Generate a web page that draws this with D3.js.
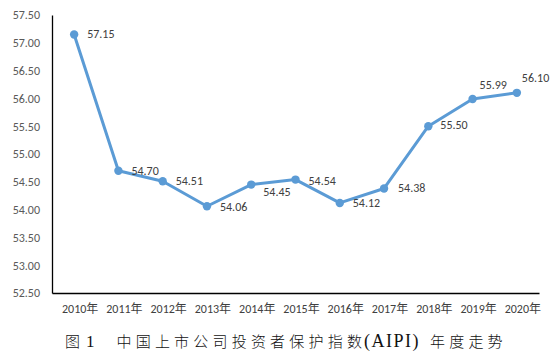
<!DOCTYPE html>
<html><head><meta charset="utf-8">
<script src="https://cdn.jsdelivr.net/npm/d3@7/dist/d3.min.js"></script>
<style>
html,body{margin:0;padding:0;background:#fff;}
svg{display:block;}
</style>
</head><body>
<svg id="chart" width="559" height="361"></svg>
<script>
const years = ["2010年","2011年","2012年","2013年","2014年","2015年","2016年","2017年","2018年","2019年","2020年"];
const values = [57.15,54.70,54.51,54.06,54.45,54.54,54.12,54.38,55.50,55.99,56.10];
const yTicks = [52.5,53.0,53.5,54.0,54.5,55.0,55.5,56.0,56.5,57.0,57.5];
const captionFig = "图";
const captionNum = "1";
const captionParts = ["中国上市公司投资者保护指数", "(AIPI)", "年度走势"];

// label placement (layout only): offsets from point
const labelOffsets = [[13,0],[13,0],[13,0],[13,1],[12,7],[13,1],[13,0],[14,0],[12,-1],[7,-14],[5,-15]];

const svg = d3.select("#chart");
const mLeft = 52, mRight = 539, mTop = 15, mBottom = 293;
const font = "Calibri, Carlito, Lato, 'Noto Sans CJK SC', sans-serif";
const fs = "12px";

const x = d3.scaleBand().domain(years).range([mLeft, mRight]).padding(0);
const y = d3.scaleLinear().domain([52.5, 57.5]).range([mBottom, mTop]);

// y axis
const yAxis = d3.axisLeft(y).tickValues(yTicks).tickSize(0).tickPadding(12).tickFormat(d3.format(".2f"));
const gy = svg.append("g").attr("transform", `translate(${mLeft},0)`).call(yAxis);
gy.select(".domain").attr("stroke", "#000").attr("stroke-width", 1.3);
gy.selectAll("text").attr("fill", "#595959").style("font-family", font).style("font-size", fs);

// x axis
const xAxis = d3.axisBottom(x).tickSize(0).tickPadding(11);
const gx = svg.append("g").attr("transform", `translate(0,${mBottom})`).call(xAxis);
gx.select(".domain").attr("stroke", "#000").attr("stroke-width", 1.3);
gx.selectAll("text").attr("fill", "#404040").attr("dx", 6).style("font-family", font).style("font-size", fs);

const cx = d => x(d) + x.bandwidth() / 2;
const data = years.map((yr, i) => ({yr, v: values[i], i}));

svg.append("path").datum(data)
  .attr("fill", "none").attr("stroke", "#5B9BD5").attr("stroke-width", 3).attr("stroke-linejoin", "round")
  .attr("d", d3.line().x(d => cx(d.yr)).y(d => y(d.v)));

svg.selectAll("circle.pt").data(data).join("circle").attr("class", "pt")
  .attr("cx", d => cx(d.yr)).attr("cy", d => y(d.v)).attr("r", 4.2).attr("fill", "#5B9BD5");

svg.selectAll("text.lbl").data(data).join("text").attr("class", "lbl")
  .attr("x", d => cx(d.yr) + labelOffsets[d.i][0])
  .attr("y", d => y(d.v) + labelOffsets[d.i][1])
  .attr("dominant-baseline", "central")
  .attr("fill", "#404040").style("font-family", font).style("font-size", fs)
  .text(d => d.v.toFixed(2));

// caption
const capFont = "'Noto Sans CJK SC', sans-serif";
const serif = "'Liberation Serif', 'DejaVu Serif', serif";
function cap(xp, txt, fam, size, ls) {
  svg.append("text").attr("x", xp).attr("y", 347).attr("fill", "#111")
    .style("font-family", fam).style("font-size", size).style("font-weight", 300)
    .style("letter-spacing", ls).text(txt);
}
cap(65, captionFig, capFont, "15px", "0px");
cap(86, captionNum, serif, "17px", "0px");
cap(116.5, captionParts[0], capFont, "15px", "4.2px");
cap(364, captionParts[1], serif, "18px", "1.5px");
cap(430, captionParts[2], capFont, "15px", "4.2px");
</script>
</body></html>
